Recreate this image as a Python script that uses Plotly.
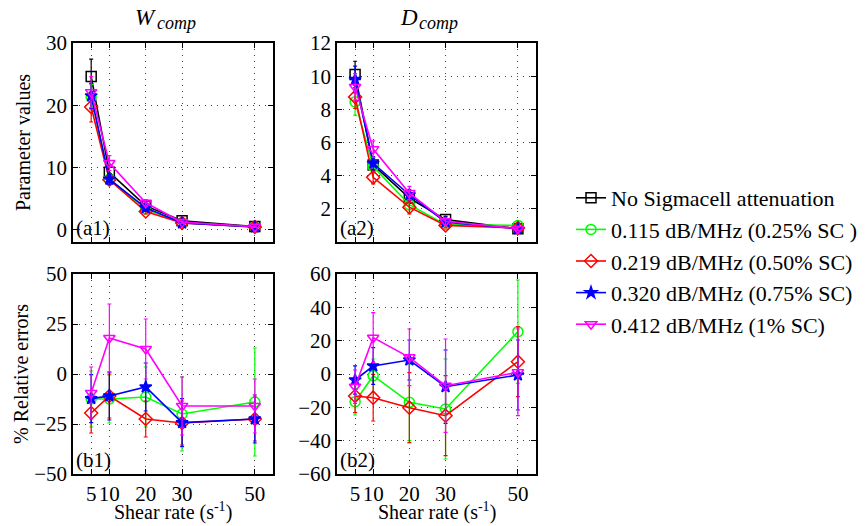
import plotly.graph_objects as go

# Shear rates (s^-1)
shear = [5, 10, 20, 30, 50]

series_names = [
    "No Sigmacell attenuation",
    "0.115 dB/MHz (0.25% SC )",
    "0.219 dB/MHz (0.50% SC)",
    "0.320 dB/MHz (0.75% SC)",
    "0.412 dB/MHz (1% SC)",
]
colors = ["#000000", "#00ff00", "#ff0000", "#0000ff", "#ff00ff"]
symbols = ["square-open", "circle-open", "diamond-open", "star", "triangle-down-open"]

# W_comp parameter values and std
w_vals = [
    [24.6, 9.2, 3.8, 1.4, 0.5],
    [21.3, 8.1, 3.3, 1.1, 0.45],
    [19.7, 8.0, 2.9, 1.05, 0.42],
    [21.5, 8.1, 3.5, 1.05, 0.42],
    [22.1, 10.7, 4.3, 1.2, 0.45],
]
w_err = [
    [2.8, 1.0, 0.5, 0.3, 0.1],
    [2.0, 0.8, 0.4, 0.2, 0.1],
    [2.4, 0.8, 0.4, 0.2, 0.1],
    [2.0, 0.8, 0.4, 0.2, 0.1],
    [2.5, 1.2, 0.5, 0.2, 0.1],
]

# D_comp parameter values and std
d_vals = [
    [10.1, 4.65, 2.65, 1.35, 0.8],
    [8.45, 4.55, 2.25, 1.05, 1.0],
    [8.75, 3.9, 2.1, 1.0, 0.85],
    [9.8, 4.75, 2.85, 1.2, 0.8],
    [9.35, 5.6, 2.95, 1.25, 0.8],
]
d_err = [
    [0.8, 0.4, 0.3, 0.2, 0.1],
    [0.8, 0.4, 0.3, 0.15, 0.1],
    [0.7, 0.4, 0.4, 0.15, 0.1],
    [0.8, 0.4, 0.3, 0.15, 0.1],
    [0.8, 0.5, 0.4, 0.2, 0.1],
]

# % relative errors (attenuated series only)
w_rel = [
    [-12.5, -12.5, -11.5, -20, -14],
    [-19.5, -11, -22.5, -24.5, -22.5],
    [-12.3, -11, -6.5, -24.3, -22.5],
    [-9.5, 18, 12.5, -16, -16],
]
w_rel_err = [
    [14, 12, 15, 18.5, 27],
    [10, 11, 9, 11, 11],
    [12, 12, 12, 12, 12],
    [13, 17, 15, 14.5, 13.5],
]
d_rel = [
    [-16.6, -1, -17, -21, 25.4],
    [-13.2, -14.2, -20.2, -25, 7.4],
    [-3.6, 4.8, 8.4, -7.6, -0.6],
    [-7.6, 21.8, 10, -7, 1],
]
d_rel_err = [
    [8, 10, 23, 30, 31],
    [10, 14, 21, 24, 21],
    [8.5, 11, 12, 22, 21],
    [10, 15, 17, 28, 26],
]

W, H = 865, 526
FONT = "Times New Roman, Liberation Serif, serif"

fig = go.Figure()


def add_series(i, y, err, xa, ya, show):
    fig.add_trace(go.Scatter(
        x=shear, y=y, mode="lines+markers",
        name=series_names[i], legendgroup=str(i), showlegend=show,
        line=dict(color=colors[i], width=1.6),
        marker=dict(symbol=symbols[i], size=10 if symbols[i] != "star" else 9,
                    color=colors[i], line=dict(color=colors[i], width=1.5)),
        error_y=dict(type="data", array=err, color=colors[i], thickness=1.2, width=2),
        xaxis=xa, yaxis=ya,
    ))


for i in range(5):
    add_series(i, w_vals[i], w_err[i], "x", "y", True)
    add_series(i, d_vals[i], d_err[i], "x2", "y2", False)
for j in range(4):
    add_series(j + 1, w_rel[j], w_rel_err[j], "x3", "y3", False)
    add_series(j + 1, d_rel[j], d_rel_err[j], "x4", "y4", False)

dx1 = [73 / W, 273 / W]
dx2 = [337 / W, 536 / W]
dy_top = [1 - 242 / H, 1 - 43 / H]
dy_bot = [1 - 474 / H, 1 - 274 / H]

TXT = dict(family=FONT, size=20, color="black")

axis_common = dict(
    showline=True, mirror="ticks", linecolor="black", linewidth=1.5,
    ticks="inside", ticklen=5, tickcolor="black",
    showgrid=True, gridcolor="#444444", gridwidth=1, griddash="1px,5px",
    zeroline=False, tickfont=dict(family=FONT, size=21, color="black"),
    automargin=False,
)
x_common = dict(axis_common, range=[0, 55], tickvals=shear)

fig.update_layout(
    xaxis=dict(x_common, domain=dx1, anchor="y", showticklabels=False),
    yaxis=dict(axis_common, domain=dy_top, anchor="x", range=[-2, 30],
               tickvals=[0, 10, 20, 30],
               title=dict(text="Parameter values", font=TXT, standoff=10)),
    xaxis2=dict(x_common, domain=dx2, anchor="y2", showticklabels=False),
    yaxis2=dict(axis_common, domain=dy_top, anchor="x2", range=[0, 12],
                tickvals=[2, 4, 6, 8, 10, 12]),
    xaxis3=dict(x_common, domain=dx1, anchor="y3"),
    yaxis3=dict(axis_common, domain=dy_bot, anchor="x3", range=[-50, 50],
                tickvals=[-50, -25, 0, 25, 50],
                title=dict(text="% Relative errors", font=TXT, standoff=0)),
    xaxis4=dict(x_common, domain=dx2, anchor="y4"),
    yaxis4=dict(axis_common, domain=dy_bot, anchor="x4", range=[-60, 60],
                tickvals=[-60, -40, -20, 0, 20, 40, 60]),
    width=W, height=H,
    margin=dict(l=0, r=0, t=0, b=0, autoexpand=False),
    paper_bgcolor="white", plot_bgcolor="white",
    font=TXT,
    legend=dict(
        x=571 / W, y=1 - 177 / H, xanchor="left", yanchor="top",
        font=dict(family=FONT, size=22, color="black"),
        traceorder="grouped", tracegroupgap=0,
        bgcolor="rgba(0,0,0,0)",
    ),
    showlegend=True,
)

# x-axis titles under the bottom row
for dom in (dx1, dx2):
    fig.add_annotation(text="Shear rate (s<sup>-1</sup>)", xref="paper", yref="paper",
                       x=(dom[0] + dom[1]) / 2, y=1 - 525 / H,
                       xanchor="center", yanchor="bottom", borderpad=0,
                       showarrow=False, font=TXT)

# Column titles: italic symbol with a smaller italic subscript next to it
for sym, dom, off in [("W", dx1, 16), ("D", dx2, 18)]:
    xc = (dom[0] + dom[1]) / 2 - off / W
    fig.add_annotation(text=f"<i>{sym}</i>", xref="paper", yref="paper",
                       x=xc, y=1 - 17 / H, xanchor="right", yanchor="middle",
                       borderpad=0, showarrow=False,
                       font=dict(family=FONT, size=23, color="black"))
    fig.add_annotation(text="<i>comp</i>", xref="paper", yref="paper",
                       x=xc - 1 / W, y=1 - 23 / H, xanchor="left", yanchor="middle",
                       borderpad=0, showarrow=False,
                       font=dict(family=FONT, size=18, color="black"))

# Panel tags
for tag, xr in [("(a1)", "x"), ("(a2)", "x2"), ("(b1)", "x3"), ("(b2)", "x4")]:
    yr = xr.replace("x", "y")
    fig.add_annotation(text=tag, xref=f"{xr} domain", yref=f"{yr} domain",
                       x=0.005, y=0.0, xanchor="left", yanchor="bottom",
                       showarrow=False, font=dict(family=FONT, size=21, color="black"))

fig.write_html("out.html")
